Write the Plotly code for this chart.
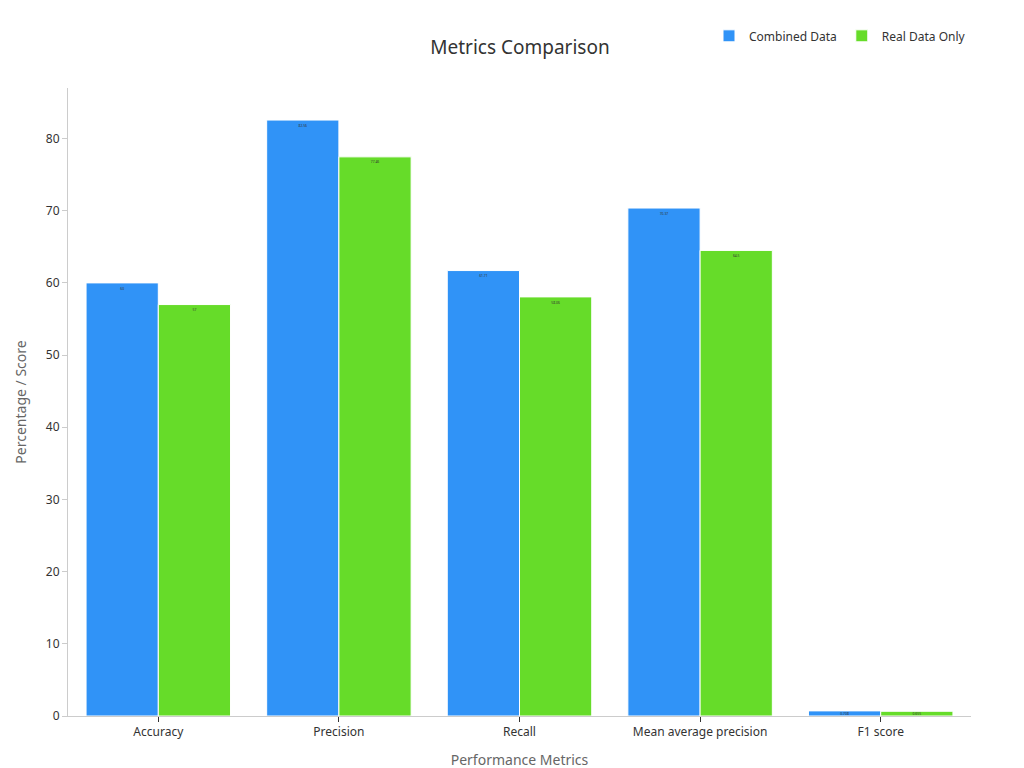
import plotly.graph_objects as go

metrics = ["Accuracy", "Precision", "Recall", "Mean average precision", "F1 score"]
combined = [60, 82.56, 61.71, 70.37, 0.708]
real_only = [57, 77.46, 58.06, 64.5, 0.655]

fig = go.Figure()
fig.add_trace(go.Bar(name="Combined Data", x=metrics, y=combined, text=combined,
                     marker=dict(color="#3093f7", line=dict(color="white", width=1))))
fig.add_trace(go.Bar(name="Real Data Only", x=metrics, y=real_only, text=real_only,
                     marker=dict(color="#66dc29", line=dict(color="white", width=1))))
fig.update_traces(textposition="inside", insidetextanchor="end",
                  textfont=dict(color="#333", size=12), textangle=0)

fig.update_layout(
    width=1024, height=768,
    font=dict(family="Noto Sans, DejaVu Sans", color="#333"),
    title=dict(text="Metrics Comparison", x=0.5, y=0.957, xanchor="center", font=dict(size=19)),
    plot_bgcolor="white", paper_bgcolor="white",
    barmode="group", bargap=0.2, bargroupgap=0,
    margin=dict(l=60, r=61, t=80, b=60),
    legend=dict(orientation="h", x=1, xanchor="right", y=1.06, yanchor="bottom", font=dict(size=12)),
    uniformtext=dict(minsize=3, mode="show"),
)
fig.update_xaxes(title=dict(text="Performance Metrics", font=dict(size=14, color="#666")),
                 showline=True, linecolor="#ccc", ticks="outside", tickcolor="#333",
                 tickfont=dict(size=12))
fig.update_yaxes(title=dict(text="Percentage / Score", font=dict(size=14, color="#666")),
                 showline=True, linecolor="#ccc", showgrid=False, ticks="outside",
                 tickcolor="#ccc", dtick=10, range=[0, 87], zeroline=False, tickfont=dict(size=12))

fig.write_html("out.html")
